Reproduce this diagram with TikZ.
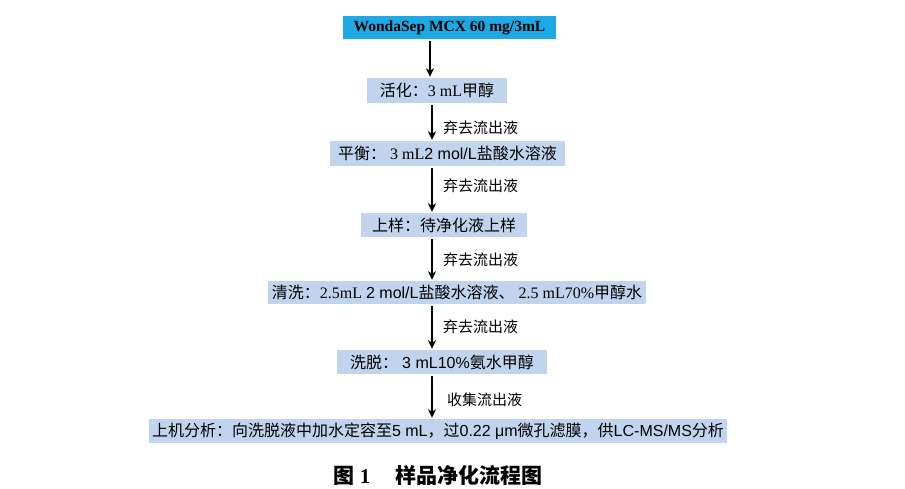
\documentclass[tikz,border=0pt]{standalone}
\usepackage{fontspec}
\setmainfont{Liberation Serif}
\newfontfamily\cjk{Noto Sans CJK SC}
\newfontfamily\lsans{Liberation Sans}
\newcommand\zh[1]{{\cjk #1}}
\newcommand\sa[1]{{\lsans #1}}
\usetikzlibrary{arrows.meta}
\definecolor{topblue}{RGB}{30,168,228}
\definecolor{lightblue}{RGB}{193,212,238}
\begin{document}
\begin{tikzpicture}[x=1pt,y=-1pt,
  box/.style={fill=lightblue, inner sep=0pt, font=\fontsize{16}{18}\selectfont},
  topbox/.style={fill=topblue, inner sep=0pt, font=\fontsize{15.5}{18}\selectfont\bfseries},
  lbl/.style={anchor=west, inner sep=0pt, font=\fontsize{15}{18}\selectfont\cjk},
  arr/.style={line width=1.5pt, shorten <=2pt, shorten >=1pt, -{Stealth[length=8.5pt,width=8pt,inset=2.5pt]}},
  captxt/.style={inner sep=0pt, font=\fontsize{21}{24}\selectfont\bfseries}]
\useasboundingbox[fill=white] (0,0) rectangle (905,489);
\node[topbox, minimum width=213pt, minimum height=23pt] (b1) at (449.5,27.5) {WondaSep MCX 60 mg/3mL\hspace{14pt}};
\node[box, minimum width=140pt, minimum height=25pt] (b2) at (437,90.5) {\zh{活化：}3 mL\zh{甲醇}};
\node[box, minimum width=235pt, minimum height=25pt] (b3) at (447.5,153.5) {\zh{平衡：} 3 mL\sa{2 mol/L}\zh{盐酸水溶液}};
\node[box, minimum width=166pt, minimum height=24pt] (b4) at (444,225) {\zh{上样：待净化液上样}};
\node[box, minimum width=378pt, minimum height=23pt] (b5) at (457,292.5) {\zh{清洗：}2.5mL \sa{2 mol/L}\zh{盐酸水溶液、} 2.5 mL70\%\zh{甲醇水}};
\node[box, minimum width=210pt, minimum height=24pt] (b6) at (442,362) {\zh{洗脱：} \sa{3 mL10\%}\zh{氨水甲醇}};
\node[box, minimum width=578pt, minimum height=24pt] (b7) at (438,431) {\zh{上机分析：向洗脱液中加水定容至}\sa{5 mL}\zh{，过}\sa{0.22 μm}\zh{微孔滤膜，供}\sa{LC-MS/MS}\zh{分析}};
\node[captxt] (c) at (438,475) {\zh{图} 1\hspace{1.2em}\zh{样品净化流程图}};
\coordinate (x1) at (430,0);
\coordinate (x2) at (432,0);
\coordinate (x6) at (432,0);
\draw[arr] (b1.south -| x1) -- (b2.north -| x1);
\draw[arr] (b2.south -| x2) -- (b3.north -| x2);
\draw[arr] (b3.south -| x2) -- (b4.north -| x2);
\draw[arr] (b4.south -| x2) -- (b5.north -| x2);
\draw[arr] (b5.south -| x2) -- (b6.north -| x2);
\draw[arr] (b6.south -| x6) -- (b7.north -| x6);
\node[lbl] (l2) at (443,128) {弃去流出液};
\node[lbl] (l3) at (443,186) {弃去流出液};
\node[lbl] (l4) at (443,260) {弃去流出液};
\node[lbl] (l5) at (443,327) {弃去流出液};
\node[lbl] (l6) at (447,400) {收集流出液};
\end{tikzpicture}
\end{document}
